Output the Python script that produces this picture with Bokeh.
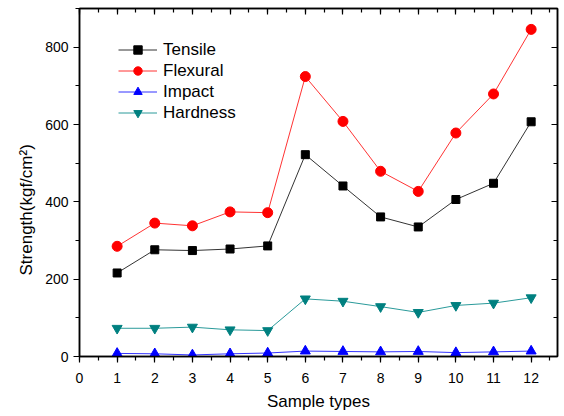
from bokeh.plotting import figure
from bokeh.models import (Range1d, LinearAxis, SingleIntervalTicker, Legend, LegendItem,
                          CustomJSTickFormatter, Title)
from bokeh.embed import file_html
from bokeh.resources import INLINE

samples = [1, 2, 3, 4, 5, 6, 7, 8, 9, 10, 11, 12]
tensile = [216, 276, 274, 278, 286, 522, 441, 361, 335, 406, 448, 607]
flexural = [285, 345, 338, 374, 372, 724, 608, 479, 427, 578, 679, 846]
impact = [8, 7, 4, 7, 9, 14, 13, 12, 13, 10, 12, 14]
hardness = [73, 73, 76, 69, 67, 149, 143, 129, 114, 132, 138, 152]

FONT = "Liberation Sans"

p = figure(width=564, height=416, output_backend="svg", toolbar_location=None,
           x_range=Range1d(0, 12.7), y_range=Range1d(0, 900),
           x_axis_location=None, y_axis_location=None,
           min_border_left=79, min_border_right=7, min_border_top=8, min_border_bottom=60)
p.grid.visible = False
p.outline_line_color = "black"
p.outline_line_width = 1.5
p.background_fill_color = "white"
p.border_fill_color = "white"

xt = SingleIntervalTicker(interval=1, num_minor_ticks=2)
yt = SingleIntervalTicker(interval=200, num_minor_ticks=2)
blank = CustomJSTickFormatter(code="return ''")

def style(ax):
    ax.axis_line_color = "black"
    ax.axis_line_width = 1.5
    ax.major_tick_line_color = "black"
    ax.minor_tick_line_color = "black"
    ax.major_tick_line_width = 1.2
    ax.minor_tick_line_width = 1.2
    ax.major_label_text_font = FONT
    ax.major_label_text_font_size = "14px"
    ax.major_label_text_color = "black"
    ax.axis_label_text_font = FONT
    ax.axis_label_text_font_size = "17px"
    ax.axis_label_text_font_style = "normal"
    ax.axis_label_text_color = "black"

bottom = LinearAxis(ticker=xt, axis_label="Sample types")
style(bottom)
bottom.major_tick_out = 6; bottom.major_tick_in = 0
bottom.minor_tick_out = 4; bottom.minor_tick_in = 0
bottom.major_label_standoff = 10
bottom.axis_label_standoff = 6
p.add_layout(bottom, "below")

left = LinearAxis(ticker=yt)
style(left)
left.major_tick_out = 6; left.major_tick_in = 0
left.minor_tick_out = 4; left.minor_tick_in = 0
left.major_label_standoff = 5
p.add_layout(left, "left")

top = LinearAxis(ticker=xt, formatter=blank)
style(top)
top.major_tick_out = 0; top.major_tick_in = 6
top.minor_tick_out = 0; top.minor_tick_in = 4
top.major_label_standoff = 0
p.add_layout(top, "above")

right = LinearAxis(ticker=yt, formatter=blank)
style(right)
right.major_tick_out = 0; right.major_tick_in = 6
right.minor_tick_out = 0; right.minor_tick_in = 4
right.major_label_standoff = 0
p.add_layout(right, "right")

ytitle = Title(text="Strength(kgf/cm²)", align="left", offset=81, standoff=13,
               text_font=FONT, text_font_size="17px", text_font_style="normal",
               text_color="black")
p.add_layout(ytitle, "left")

series = [
    ("Tensile", tensile, "#000000", "#333333", "square", 8),
    ("Flexural", flexural, "#FF0000", "#FF3333", "circle", 10),
    ("Impact", impact, "#0000FF", "#3333FF", "triangle", 10),
    ("Hardness", hardness, "#008080", "#2a9a9a", "inverted_triangle", 10),
]
items = []
for name, vals, col, lcol, mk, sz in series:
    l = p.line(samples, vals, line_color=lcol, line_width=1)
    s = p.scatter(samples, vals, marker=mk, size=sz, fill_color=col, line_color=col)
    items.append(LegendItem(label=name, renderers=[l, s]))

leg = Legend(items=items, location=(39, 233))
leg.border_line_color = None
leg.background_fill_alpha = 0
leg.padding = 0
leg.margin = 0
leg.spacing = 0
leg.glyph_width = 39
leg.glyph_height = 21
leg.label_height = 21
leg.label_standoff = 6
leg.label_text_font = FONT
leg.label_text_font_size = "17px"
leg.label_text_color = "black"
p.add_layout(leg, "center")

open("out.html", "w").write(file_html(p, INLINE))
